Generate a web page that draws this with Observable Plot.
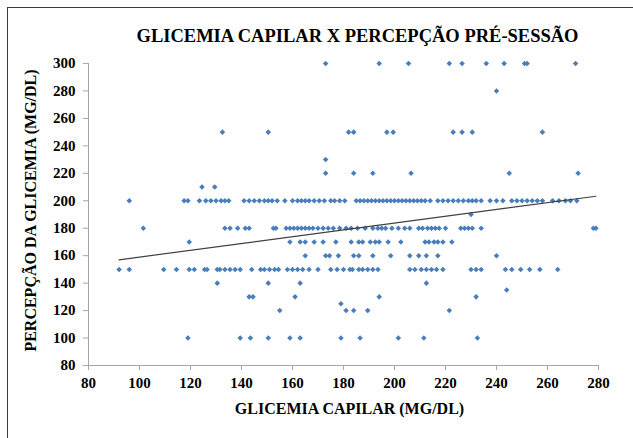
<!DOCTYPE html>
<html><head><meta charset="utf-8">
<script src="https://cdn.jsdelivr.net/npm/d3@7"></script>
<script src="https://cdn.jsdelivr.net/npm/@observablehq/plot@0.6"></script>
<style>
body{margin:0;background:#fff;}
#wrap{position:relative;width:633px;height:438px;overflow:hidden;}
#frame{position:absolute;left:7px;top:7px;width:700px;height:500px;border-left:1.5px solid #3a3a3a;border-top:1.5px solid #3a3a3a;pointer-events:none;}
</style></head><body>
<div id="wrap"><div id="frame"></div></div>
<script>
const title = "GLICEMIA CAPILAR X PERCEPÇÃO PRÉ-SESSÃO";
const xLabel = "GLICEMIA CAPILAR (MG/DL)";
const yLabel = "PERCEPÇÃO DA GLICEMIA (MG/DL)";
const xTicks = [80, 100, 120, 140, 160, 180, 200, 220, 240, 260, 280];
const yTicks = [80, 100, 120, 140, 160, 180, 200, 220, 240, 260, 280, 300];

// glicemia capilar values, grouped by perceived glycemia
const perc300 = [173, 194, 205.5, 221.5, 226.5, 236, 243, 251, 252, 271];
const perc280 = [240];
const perc250 = [132.5, 150.5, 182, 184, 197, 199.5, 223, 226.5, 230.5, 258];
const perc230 = [173];
const perc220 = [173, 184, 191.5, 206.5, 245, 272];
const perc210 = [124.5, 129.5];
const perc200 = [96, 117.5, 119, 123.5, 126, 128, 130, 132, 133.5, 135, 141, 143, 145, 147, 149, 150.5, 152, 154, 157, 160, 162, 163.5, 165, 166.5, 168.5, 170.5, 172.5, 175, 176.5, 178.5, 180.5, 185, 186.5, 188, 189.5, 191, 192.5, 194, 195.5, 197, 198.5, 200, 201.5, 203, 204.5, 206, 207.5, 209, 210.5, 212, 214, 217, 219, 221, 223, 225, 227, 229, 230.5, 232, 234, 237.5, 240, 242.5, 246, 248, 250, 252, 254, 256, 258, 262, 264.5, 267, 269, 271.5];
const perc190 = [230];
const perc180 = [101.5, 133.5, 135.5, 138.5, 141.5, 143, 152.5, 153.5, 157.5, 159, 160.5, 162, 163.5, 165, 166.5, 168, 170, 172, 174, 176, 178.5, 181, 183, 185.5, 188.5, 191.5, 193.5, 195, 196.5, 199, 201.5, 204, 206, 209.5, 211, 213, 214.5, 216, 217.5, 220, 226, 227.5, 229, 230.5, 234, 278, 279];
const perc170 = [119.5, 159, 163, 165, 168.5, 172, 177, 183, 186, 187.5, 190.5, 192.5, 194, 197.5, 202.5, 212, 213.5, 215.5, 217, 219, 222.5];
const perc160 = [165, 173, 174.5, 178, 184, 186, 191.5, 198.5, 206, 209.5, 212.5, 217, 240];
const perc150 = [92, 96, 109.5, 114.5, 119.5, 121.5, 125.5, 126.5, 130.5, 131.5, 133.5, 135.5, 137.5, 139.5, 144, 147.5, 149, 151, 153, 154.5, 158, 160, 162, 164, 166.5, 170, 175, 177.5, 180, 182.5, 183.5, 186, 187.5, 189.5, 191.5, 193.5, 206, 208, 210.5, 212.5, 214.5, 216.5, 219, 230, 232, 234, 243.5, 246, 249.5, 253, 257, 264];
const perc140 = [130.5, 150.5, 163, 212.5];
const perc135 = [244];
const perc130 = [143, 144.5, 161, 194, 232];
const perc125 = [179];
const perc120 = [155, 181, 184, 189.5, 221.5];
const perc100 = [119, 139.5, 143.5, 150.5, 159, 163, 179, 186.5, 201.5, 211.5, 232.5];

// linear trend line endpoints
const trendX = [92, 279];
const trendY = [157, 203.3];

const rows = [
  [300, perc300], [280, perc280], [250, perc250], [230, perc230], [220, perc220],
  [210, perc210], [200, perc200], [190, perc190], [180, perc180], [170, perc170],
  [160, perc160], [150, perc150], [140, perc140], [135, perc135], [130, perc130],
  [125, perc125], [120, perc120], [100, perc100]
];
const points = rows.flatMap(([y, xs]) => xs.map(x => ({x, y})));
const trend = trendX.map((x, i) => ({x, y: trendY[i]}));

const serif = "Liberation Serif";
const chart = Plot.plot({
  width: 633, height: 438,
  marginLeft: 88, marginRight: 35, marginTop: 63, marginBottom: 73,
  style: {fontFamily: serif, fontSize: "14px", color: "#000", background: "transparent"},
  x: {domain: [80, 280]},
  y: {domain: [80, 300]},
  marks: [
    Plot.ruleY([80], {stroke: "#a6a6a6"}),
    Plot.ruleX([80], {stroke: "#a6a6a6"}),
    Plot.axisX({ticks: xTicks, tickSize: 5, stroke: "#a6a6a6", tickFormat: () => "", label: null}),
    Plot.axisY({ticks: yTicks, tickSize: 5, stroke: "#a6a6a6", tickFormat: () => "", label: null}),
    Plot.text(xTicks, {x: d => d, text: d => String(d), frameAnchor: "bottom", dy: 18, fontSize: 15, fontWeight: "bold", fontFamily: serif, fill: "#000", lineAnchor: "middle"}),
    Plot.text(yTicks, {y: d => d, text: d => String(d), frameAnchor: "left", dx: -13, textAnchor: "end", fontSize: 15, fontWeight: "bold", fontFamily: serif, fill: "#000", lineAnchor: "middle"}),
    Plot.dot(points, {x: "x", y: "y", symbol: "diamond2", fill: "#4a7ebb", stroke: "none", r: 2.5}),
    Plot.line(trend, {x: "x", y: "y", stroke: "#404040", strokeWidth: 1.2}),
    Plot.text([title], {text: d => d, frameAnchor: "top", dy: -27, dx: 14, fontSize: 18.5, fontWeight: "bold", fontFamily: serif, lineAnchor: "middle"}),
    Plot.text([xLabel], {text: d => d, frameAnchor: "bottom", dy: 43, dx: 6, fontSize: 16, fontWeight: "bold", fontFamily: serif, lineAnchor: "middle"}),
    Plot.text([yLabel], {text: d => d, frameAnchor: "left", dx: -58, dy: -4, rotate: -90, textAnchor: "middle", fontSize: 16, fontWeight: "bold", fontFamily: serif, lineAnchor: "middle"})
  ]
});
document.getElementById("wrap").prepend(chart);
</script>
</body></html>
